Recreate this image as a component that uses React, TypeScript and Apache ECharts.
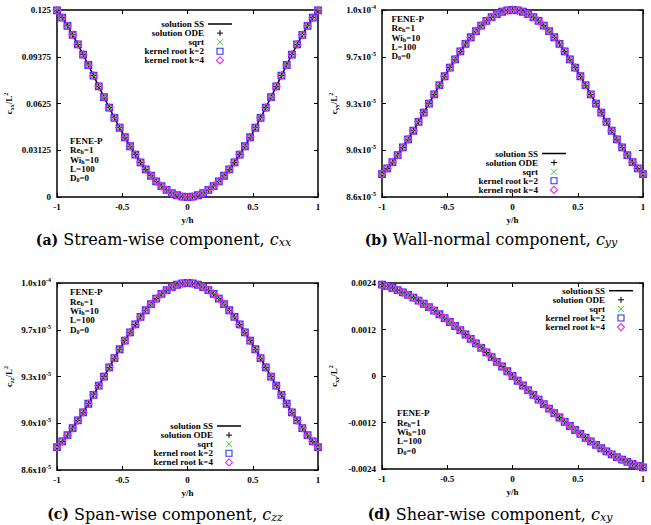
import React, { useEffect, useRef } from 'react';
import * as echarts from 'echarts';

// ---------------- data ----------------
const Y_POS = [
  -1, -0.96, -0.92, -0.88, -0.84, -0.8, -0.76, -0.72, -0.68, -0.64, -0.6, -0.56, -0.52,
  -0.48, -0.44, -0.4, -0.36, -0.32, -0.28, -0.24, -0.2, -0.16, -0.12, -0.08, -0.04, 0,
  0.04, 0.08, 0.12, 0.16, 0.2, 0.24, 0.28, 0.32, 0.36, 0.4, 0.44, 0.48, 0.52, 0.56, 0.6,
  0.64, 0.68, 0.72, 0.76, 0.8, 0.84, 0.88, 0.92, 0.96, 1,
];

const CXX = [
  0.1248, 0.11992, 0.11443, 0.10842, 0.10198, 0.09523, 0.08825, 0.08113, 0.07396, 0.06681,
  0.05977, 0.05291, 0.04628, 0.03994, 0.03394, 0.02833, 0.02315, 0.01844, 0.01421, 0.0105,
  0.00733, 0.00471, 0.00265, 0.00118, 0.0003, 0, 0.0003, 0.00118, 0.00265, 0.00471, 0.00733,
  0.0105, 0.01421, 0.01844, 0.02315, 0.02833, 0.03394, 0.03994, 0.04628, 0.05291, 0.05977,
  0.06681, 0.07396, 0.08113, 0.08825, 0.09523, 0.10198, 0.10842, 0.11443, 0.11992, 0.1248,
];

const CYY = [
  8.772e-5, 8.814e-5, 8.861e-5, 8.914e-5, 8.971e-5, 9.032e-5, 9.096e-5, 9.163e-5, 9.231e-5,
  9.299e-5, 9.368e-5, 9.437e-5, 9.504e-5, 9.569e-5, 9.631e-5, 9.69e-5, 9.746e-5, 9.796e-5,
  9.842e-5, 9.883e-5, 9.918e-5, 9.947e-5, 9.97e-5, 9.987e-5, 9.997e-5, 1.0e-4, 9.997e-5,
  9.987e-5, 9.97e-5, 9.947e-5, 9.918e-5, 9.883e-5, 9.842e-5, 9.796e-5, 9.746e-5, 9.69e-5,
  9.631e-5, 9.569e-5, 9.504e-5, 9.437e-5, 9.368e-5, 9.299e-5, 9.231e-5, 9.163e-5, 9.096e-5,
  9.032e-5, 8.971e-5, 8.914e-5, 8.861e-5, 8.814e-5, 8.772e-5,
];

const CZZ = [
  8.772e-5, 8.814e-5, 8.861e-5, 8.914e-5, 8.971e-5, 9.032e-5, 9.096e-5, 9.163e-5, 9.231e-5,
  9.299e-5, 9.368e-5, 9.437e-5, 9.504e-5, 9.569e-5, 9.631e-5, 9.69e-5, 9.746e-5, 9.796e-5,
  9.842e-5, 9.883e-5, 9.918e-5, 9.947e-5, 9.97e-5, 9.987e-5, 9.997e-5, 1.0e-4, 9.997e-5,
  9.987e-5, 9.97e-5, 9.947e-5, 9.918e-5, 9.883e-5, 9.842e-5, 9.796e-5, 9.746e-5, 9.69e-5,
  9.631e-5, 9.569e-5, 9.504e-5, 9.437e-5, 9.368e-5, 9.299e-5, 9.231e-5, 9.163e-5, 9.096e-5,
  9.032e-5, 8.971e-5, 8.914e-5, 8.861e-5, 8.814e-5, 8.772e-5,
];

const CXY = [
  0.00236, 0.002319, 0.002271, 0.002217, 0.002158, 0.002092, 0.002021, 0.001945, 0.001864,
  0.001778, 0.001688, 0.001594, 0.001496, 0.001394, 0.00129, 0.001182, 0.001071, 0.000959,
  0.000844, 0.000727, 0.000608, 0.000488, 0.000367, 0.000245, 0.000123, 0, -0.000123,
  -0.000245, -0.000367, -0.000488, -0.000608, -0.000727, -0.000844, -0.000959, -0.001071,
  -0.001182, -0.00129, -0.001394, -0.001496, -0.001594, -0.001688, -0.001778, -0.001864,
  -0.001945, -0.002021, -0.002092, -0.002158, -0.002217, -0.002271, -0.002319, -0.00236,
];

const X_TICKS = [-1, -0.5, 0, 0.5, 1];
const CXX_TICKS = [0, 0.03125, 0.0625, 0.09375, 0.125];
const CYY_TICKS = [8.6e-5, 8.95e-5, 9.3e-5, 9.65e-5, 1.0e-4];
const CYY_TICK_LABELS = [
  ['8.6', '-5'],
  ['9.0', '-5'],
  ['9.3', '-5'],
  ['9.7', '-5'],
  ['1.0', '-4'],
];
const CXY_TICKS = [-0.0024, -0.0012, 0, 0.0012, 0.0024];

const SERIES_NAMES = ['solution SS', 'solution ODE', 'sqrt', 'kernel root k=2', 'kernel root k=4'];
const INFO_LINES = ['FENE-P', 'Re|h|=1', 'Wi|h|=10', 'L=100', 'D|0|=0'];

// ---------------- styles ----------------
const FONT = '"Liberation Serif", "Times New Roman", serif';
const CAP_FONT = '"DejaVu Serif", serif';
const GREEN = '#2fd02f';
const BLUE = '#3030ff';
const MAGENTA = '#e82ce8';

const PLUS = 'path://M4 0V8M0 4H8';
const CROSS = 'path://M0 0L8 8M8 0L0 8';

const labelRich = {
  m: { fontFamily: FONT, fontWeight: 'bold', fontSize: 9, color: '#000', lineHeight: 11 },
  e: {
    fontFamily: FONT, fontWeight: 'bold', fontSize: 6, color: '#000', lineHeight: 11,
    padding: [0, 0, 6, 0],
  },
};

const nameRich = {
  c: { fontFamily: FONT, fontWeight: 'bold', fontSize: 9, color: '#000', lineHeight: 12 },
  s: {
    fontFamily: FONT, fontWeight: 'bold', fontSize: 6, color: '#000', lineHeight: 12,
    padding: [5, 0, 0, 0],
  },
  p: {
    fontFamily: FONT, fontWeight: 'bold', fontSize: 6, color: '#000', lineHeight: 12,
    padding: [0, 0, 6, 0],
  },
};

type Panel = {
  values: number[];
  ticks: number[];
  yMin: number;
  yMax: number;
  fmt: (v: number) => string;
  sub: string;
  grid: { left: number; top: number; width: number; height: number };
  legend: [number, number];
  info: [number, number];
  cap: { x: number; y: number; tag: string; text: string; sub: string };
};

const simpleFmt = (v: number) => `{m|${String(v)}}`;
const sciFmt = (v: number) => {
  const i = CYY_TICKS.findIndex((t) => Math.abs(t - v) < 1e-10);
  if (i < 0) return '';
  const l = CYY_TICK_LABELS[i];
  return `{m|${l[0]}x10}{e|${l[1]}}`;
};

const PANELS: Panel[] = [
  {
    values: CXX, ticks: CXX_TICKS, yMin: 0, yMax: 0.125, fmt: simpleFmt, sub: 'xx',
    grid: { left: 57, top: 10, width: 261, height: 187 },
    legend: [204, 24], info: [70, 136.5],
    cap: { x: 163.5, y: 239.5, tag: '(a)', text: 'Stream-wise component, ', sub: 'xx' },
  },
  {
    values: CYY, ticks: CYY_TICKS, yMin: 8.6e-5, yMax: 1.0e-4, fmt: sciFmt, sub: 'yy',
    grid: { left: 382, top: 10, width: 261, height: 187 },
    legend: [538, 153.5], info: [391.5, 14.5],
    cap: { x: 491, y: 239.5, tag: '(b)', text: 'Wall-normal component, ', sub: 'yy' },
  },
  {
    values: CZZ, ticks: CYY_TICKS, yMin: 8.6e-5, yMax: 1.0e-4, fmt: sciFmt, sub: 'zz',
    grid: { left: 57, top: 283, width: 261, height: 187 },
    legend: [213, 426], info: [70, 287.7],
    cap: { x: 165, y: 514, tag: '(c)', text: 'Span-wise component, ', sub: 'zz' },
  },
  {
    values: CXY, ticks: CXY_TICKS, yMin: -0.0024, yMax: 0.0024, fmt: simpleFmt, sub: 'xy',
    grid: { left: 382, top: 283, width: 261, height: 186 },
    legend: [605, 290.7], info: [397, 408.7],
    cap: { x: 490, y: 514, tag: '(d)', text: 'Shear-wise component, ', sub: 'xy' },
  },
];

const axisLineStyle = { show: true, onZero: false, lineStyle: { color: '#000', width: 1.5 } };
const tickStyle = { show: true, inside: true, length: 4, lineStyle: { color: '#000', width: 1 } };

function legendGraphics(xr: number, y0: number) {
  const els: any[] = [];
  const step = 9.1;
  const lx1 = xr + 4;
  const lx2 = xr + 28;
  const mx = (lx1 + lx2) / 2;
  SERIES_NAMES.forEach((name, i) => {
    const cy = y0 + i * step;
    els.push({
      type: 'text', x: xr, y: cy, silent: true,
      style: {
        text: name, fontFamily: FONT, fontWeight: 'bold', fontSize: 9, fill: '#000',
        align: 'right', verticalAlign: 'middle', textAlign: 'right', textVerticalAlign: 'middle',
      },
    });
    if (i === 0) {
      els.push({ type: 'line', silent: true, shape: { x1: lx1, y1: cy, x2: lx2, y2: cy }, style: { stroke: '#000', lineWidth: 1.5 } });
    } else if (i === 1) {
      els.push({ type: 'line', silent: true, shape: { x1: mx - 3, y1: cy, x2: mx + 3, y2: cy }, style: { stroke: '#000', lineWidth: 1 } });
      els.push({ type: 'line', silent: true, shape: { x1: mx, y1: cy - 3, x2: mx, y2: cy + 3 }, style: { stroke: '#000', lineWidth: 1 } });
    } else if (i === 2) {
      els.push({ type: 'line', silent: true, shape: { x1: mx - 3, y1: cy - 3, x2: mx + 3, y2: cy + 3 }, style: { stroke: GREEN, lineWidth: 1 } });
      els.push({ type: 'line', silent: true, shape: { x1: mx - 3, y1: cy + 3, x2: mx + 3, y2: cy - 3 }, style: { stroke: GREEN, lineWidth: 1 } });
    } else if (i === 3) {
      els.push({ type: 'rect', silent: true, shape: { x: mx - 3, y: cy - 3, width: 6, height: 6 }, style: { fill: 'none', stroke: BLUE, lineWidth: 1.1 } });
    } else {
      els.push({
        type: 'polygon', silent: true,
        shape: { points: [[mx, cy - 3.5], [mx + 3.5, cy], [mx, cy + 3.5], [mx - 3.5, cy]] },
        style: { fill: 'none', stroke: MAGENTA, lineWidth: 1.1 },
      });
    }
  });
  return els;
}

function infoGraphic(x: number, y: number) {
  const text = INFO_LINES.map((l) => {
    const parts = l.split('|');
    if (parts.length === 1) return `{t|${parts[0]}}`;
    return `{t|${parts[0]}}{s|${parts[1]}}{t|${parts[2]}}`;
  }).join('\n');
  return {
    type: 'text', x, y, silent: true,
    style: {
      text,
      fontFamily: FONT, fontWeight: 'bold', fontSize: 9, fill: '#000',
      align: 'left', verticalAlign: 'top', textAlign: 'left', textVerticalAlign: 'top',
      rich: {
        t: { fontFamily: FONT, fontWeight: 'bold', fontSize: 9, fill: '#000', lineHeight: 9.3 },
        s: { fontFamily: FONT, fontWeight: 'bold', fontSize: 6, fill: '#000', lineHeight: 9.3, padding: [4, 0, 0, 0] },
      },
    },
  };
}

function captionGraphic(c: Panel['cap']) {
  return {
    type: 'text', x: c.x, y: c.y, silent: true,
    style: {
      text: `{b|${c.tag}} {n|${c.text}}{i|c}{u|${c.sub}}`,
      fontFamily: CAP_FONT, fontSize: 16, fill: '#000',
      align: 'center', verticalAlign: 'middle', textAlign: 'center', textVerticalAlign: 'middle',
      rich: {
        b: { fontFamily: CAP_FONT, fontWeight: 'bold', fontSize: 14, fill: '#000', lineHeight: 19 },
        n: { fontFamily: CAP_FONT, fontSize: 16, fill: '#000', lineHeight: 19 },
        i: { fontFamily: CAP_FONT, fontStyle: 'italic', fontSize: 16, fill: '#000', lineHeight: 19 },
        u: { fontFamily: CAP_FONT, fontStyle: 'italic', fontSize: 11, fill: '#000', lineHeight: 19, padding: [6, 0, 0, 0] },
      },
    },
  };
}

function buildOption() {
  const grid: any[] = [];
  const xAxis: any[] = [];
  const yAxis: any[] = [];
  const series: any[] = [];
  const graphic: any[] = [];

  PANELS.forEach((p, k) => {
    grid.push({ ...p.grid, containLabel: false });
    const xBase = {
      type: 'value', gridIndex: k, min: -1, max: 1, interval: 0.5,
      axisLine: axisLineStyle, axisTick: tickStyle, splitLine: { show: false },
    };
    xAxis.push({
      ...xBase, position: 'bottom',
      axisLabel: {
        show: true, margin: 5, fontFamily: FONT, fontWeight: 'bold', fontSize: 9, color: '#000',
        customValues: X_TICKS,
      },
      axisTick: { ...tickStyle, customValues: X_TICKS },
      name: 'y/h', nameLocation: 'middle', nameGap: 18,
      nameTextStyle: { fontFamily: FONT, fontWeight: 'bold', fontSize: 9, color: '#000' },
    });
    xAxis.push({ ...xBase, position: 'top', axisLabel: { show: false }, axisTick: { ...tickStyle, customValues: X_TICKS } });

    const yBase = {
      type: 'value', gridIndex: k, min: p.yMin, max: p.yMax,
      axisLine: axisLineStyle, splitLine: { show: false },
    };
    yAxis.push({
      ...yBase, position: 'left',
      axisTick: { ...tickStyle, customValues: p.ticks },
      axisLabel: {
        show: true, margin: 6, customValues: p.ticks, formatter: p.fmt, rich: labelRich,
        fontFamily: FONT, fontWeight: 'bold', fontSize: 9, color: '#000',
      },
      name: `{c|c}{s|${p.sub}}{c|/L}{p|2}`, nameLocation: 'middle', nameGap: 42,
      nameTextStyle: { rich: nameRich, fontFamily: FONT, fontWeight: 'bold', fontSize: 9, color: '#000' },
    });
    yAxis.push({
      ...yBase, position: 'right',
      axisTick: { ...tickStyle, customValues: p.ticks },
      axisLabel: { show: false },
    });

    const pts = Y_POS.map((y, i) => [y, p.values[i]]);
    const xi = 2 * k;
    const yi = 2 * k;
    series.push({
      type: 'line', name: SERIES_NAMES[0], xAxisIndex: xi, yAxisIndex: yi, data: pts,
      symbol: 'none', lineStyle: { color: '#000', width: 1.5 }, z: 1, silent: true,
    });
    series.push({
      type: 'scatter', name: SERIES_NAMES[1], xAxisIndex: xi, yAxisIndex: yi, data: pts,
      symbol: PLUS, symbolSize: 6, clip: false, silent: true, z: 2,
      itemStyle: { color: 'rgba(0,0,0,0)', borderColor: '#000', borderWidth: 1, opacity: 1 },
    });
    series.push({
      type: 'scatter', name: SERIES_NAMES[2], xAxisIndex: xi, yAxisIndex: yi, data: pts,
      symbol: CROSS, symbolSize: 6, clip: false, silent: true, z: 3,
      itemStyle: { color: 'rgba(0,0,0,0)', borderColor: GREEN, borderWidth: 1, opacity: 1 },
    });
    series.push({
      type: 'scatter', name: SERIES_NAMES[3], xAxisIndex: xi, yAxisIndex: yi, data: pts,
      symbol: 'rect', symbolSize: 6.5, clip: false, silent: true, z: 4,
      itemStyle: { color: 'rgba(0,0,0,0)', borderColor: BLUE, borderWidth: 1.3, opacity: 1 },
    });
    series.push({
      type: 'scatter', name: SERIES_NAMES[4], xAxisIndex: xi, yAxisIndex: yi, data: pts,
      symbol: 'diamond', symbolSize: 7.5, clip: false, silent: true, z: 5,
      itemStyle: { color: 'rgba(0,0,0,0)', borderColor: MAGENTA, borderWidth: 1.2, opacity: 1 },
    });

    graphic.push(...legendGraphics(p.legend[0], p.legend[1]));
    graphic.push(infoGraphic(p.info[0], p.info[1]));
    graphic.push(captionGraphic(p.cap));
  });

  return {
    animation: false,
    backgroundColor: '#fff',
    grid, xAxis, yAxis, series,
    graphic: { elements: graphic },
  };
}

export default function App() {
  const ref = useRef<HTMLDivElement>(null);
  useEffect(() => {
    document.body.style.margin = '0';
    const chart = echarts.init(ref.current!, null, { renderer: 'svg' });
    chart.setOption(buildOption() as any);
    return () => chart.dispose();
  }, []);
  return <div ref={ref} style={{ width: 651, height: 525 }} />;
}
